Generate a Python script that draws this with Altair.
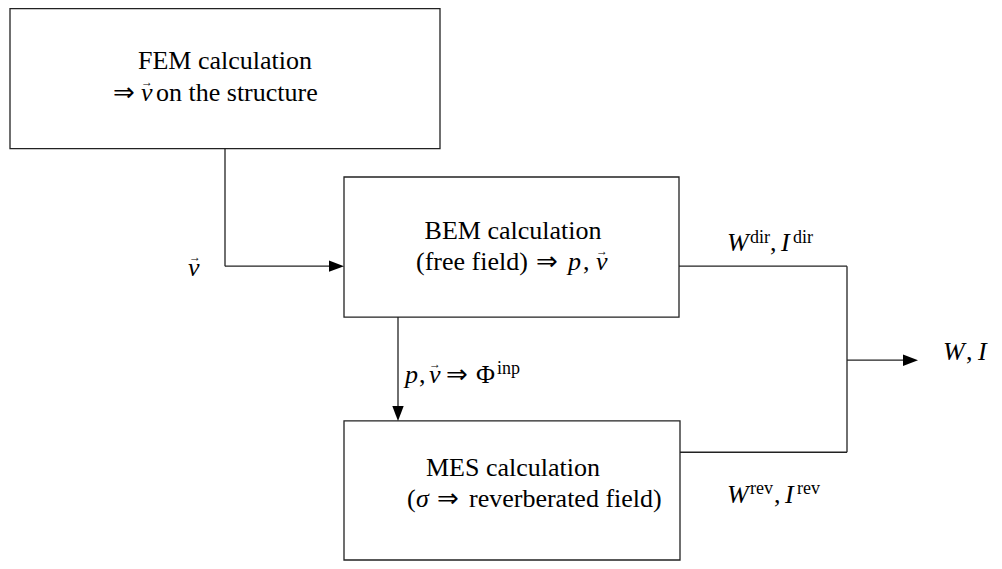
import altair as alt
import pandas as pd

# ---- boxes (picture pixel coordinates) ----
box_x1 = [10, 344, 344]
box_x2 = [440, 679, 680]
box_y1 = [4, 176, 425]
box_y2 = [147, 319, 567]

# ---- connector segments ----
seg_x1 = [225, 225, 398, 679, 847, 847, 847]
seg_x2 = [225, 338, 398, 847, 847, 680, 912]
seg_y1 = [147, 267, 319, 267, 267, 457, 363]
seg_y2 = [267, 267, 419, 267, 457, 457, 363]

# ---- arrow heads (tip positions, angle in degrees) ----
arr_x = [344, 398, 918]
arr_y = [267, 425, 363]
arr_angle = [0, 90, 0]

# ---- upright text, 26px ----
n_text = ["FEM calculation", "on the structure",
          "BEM calculation", "(free field)", ",",
          "MES calculation", "(", "reverberated field)",
          ",", "Φ",
          ",", ",", ","]
n_x = [225, 156,
       513, 416, 583,
       513, 407, 469,
       419, 476,
       770, 966, 774]
n_y = [66, 98,
       239, 271,
       271,
       481, 513, 513,
       386, 386,
       252, 363, 509]
n_align = ["center", "left",
           "center", "left", "left",
           "center", "left", "left",
           "left", "left",
           "left", "left", "left"]

# ---- double arrows (⇒) ----
dar_x = [113, 536, 437, 446]
dar_y = [98, 271, 513, 386]

# ---- italic math symbols, 26px ----
i_text = ["v", "p", "v", "σ", "p", "v", "v", "W", "I", "W", "I", "W", "I"]
i_x = [141, 568, 596, 416, 405, 429, 188, 727, 781, 943, 978, 727, 785]
i_y = [98, 271, 271, 513, 386, 386, 277, 252, 252, 363, 363, 509, 509]

# ---- vector arrows over v ----
vec_x = [147, 602, 435, 195]
vec_y = [83, 256, 371, 262]

# ---- superscripts ----
s_text = ["inp", "dir", "dir", "rev", "rev"]
s_x = [497, 750, 793, 750, 797]
s_y = [377, 243, 243, 500, 500]

W, H = 986, 553
xs = alt.Scale(domain=[8, 994], range=[0, W], nice=False, zero=False)
ys = alt.Scale(domain=[3.5, 568], range=[0, H], nice=False, zero=False)
noax = dict(axis=None)

boxes = pd.DataFrame({"x1": box_x1, "x2": box_x2, "y1": box_y1, "y2": box_y2})
segs = pd.DataFrame({"x1": seg_x1, "x2": seg_x2, "y1": seg_y1, "y2": seg_y2})
arrs = pd.DataFrame({"x": arr_x, "y": arr_y, "a": arr_angle})
ntx = pd.DataFrame({"x": n_x, "y": n_y, "t": n_text, "al": n_align})
dtx = pd.DataFrame({"x": dar_x, "y": dar_y, "t": ["⇒"] * len(dar_x)})
itx = pd.DataFrame({"x": i_x, "y": i_y, "t": i_text})
vtx = pd.DataFrame({"x": vec_x, "y": vec_y, "t": ["→"] * len(vec_x)})
stx = pd.DataFrame({"x": s_x, "y": s_y, "t": s_text})

FONT = "Liberation Serif, Tinos, Times New Roman, Times, DejaVu Serif, serif"
ARFONT = "DejaVu Sans, sans-serif"
LC = "#222222"

rect_layer = alt.Chart(boxes).mark_rect(fill="white", stroke=LC, strokeWidth=1.3).encode(
    x=alt.X("x1:Q", scale=xs, **noax), x2="x2:Q",
    y=alt.Y("y1:Q", scale=ys, **noax), y2="y2:Q")

seg_layer = alt.Chart(segs).mark_rule(color=LC, strokeWidth=1.3).encode(
    x=alt.X("x1:Q", scale=xs, **noax), x2="x2:Q",
    y=alt.Y("y1:Q", scale=ys, **noax), y2="y2:Q")

arrow_path = "M0,0 L-1,-0.38 L-1,0.38 Z"
arr_layer = alt.Chart(arrs).mark_point(shape=arrow_path, filled=True, fill="black",
                                        strokeWidth=0, opacity=1).encode(
    x=alt.X("x:Q", scale=xs, **noax), y=alt.Y("y:Q", scale=ys, **noax),
    angle=alt.Angle("a:Q", scale=None), size=alt.value(900))

def txt(df, size, style="normal", align=None, font=FONT):
    kw = dict(font=font, fontSize=size, fontStyle=style, baseline="alphabetic", color="black")
    enc = dict(x=alt.X("x:Q", scale=xs, **noax), y=alt.Y("y:Q", scale=ys, **noax), text="t:N")
    if align is None:
        return [alt.Chart(df[df.al == a]).mark_text(align=a, **kw).encode(**enc)
                for a in sorted(df.al.unique())]
    return [alt.Chart(df).mark_text(align=align, **kw).encode(**enc)]

layers = [rect_layer, seg_layer, arr_layer]
layers += txt(ntx, 26)
layers += txt(dtx, 26, align="left", font=ARFONT)
layers += txt(itx, 26, style="italic", align="left")
layers += txt(vtx, 12, align="center")
layers += txt(stx, 18, align="left")

chart = alt.layer(*layers).properties(
    width=W, height=H, padding=0, autosize=alt.AutoSizeParams(type="none"),
    background="white"
).configure_view(stroke=None)

chart.save("out.html", embed_options={"renderer": "svg", "actions": False})
